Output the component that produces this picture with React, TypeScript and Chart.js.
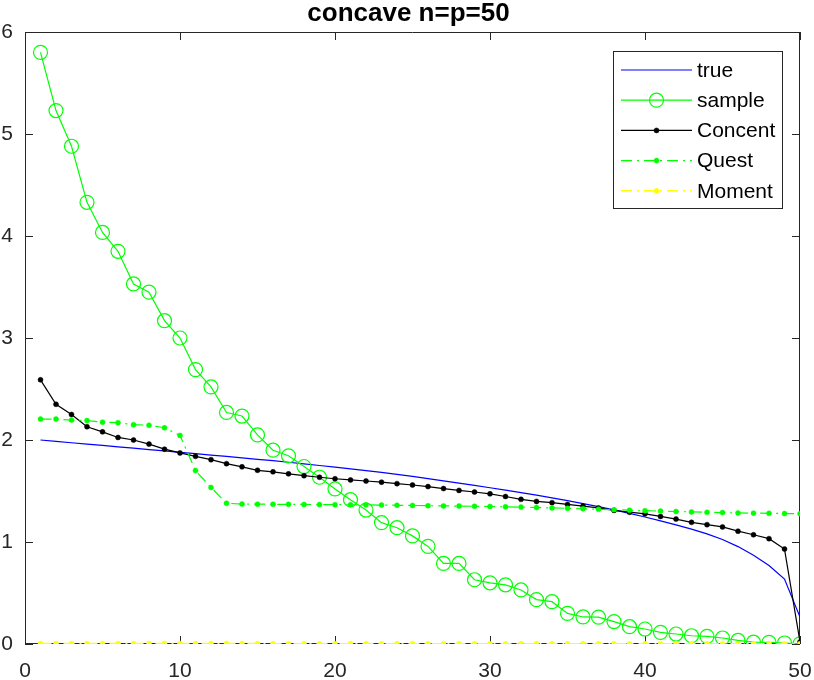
import { useEffect, useRef } from "react";
import { Chart, ChartConfiguration, Plugin, registerables } from "chart.js";
Chart.register(...registerables);

const chartTitle = "concave n=p=50";

const index = [
  1, 2, 3, 4, 5, 6, 7, 8, 9, 10, 11, 12, 13, 14, 15, 16, 17, 18, 19, 20, 21, 22, 23, 24, 25,
  26, 27, 28, 29, 30, 31, 32, 33, 34, 35, 36, 37, 38, 39, 40, 41, 42, 43, 44, 45, 46, 47, 48,
  49, 50,
];

const trueValues = [
  2.0, 1.987, 1.973, 1.96, 1.947, 1.933, 1.92, 1.906, 1.893, 1.879, 1.866, 1.852, 1.839, 1.825,
  1.811, 1.797, 1.782, 1.766, 1.75, 1.734, 1.717, 1.7, 1.682, 1.663, 1.643, 1.622, 1.6, 1.578,
  1.555, 1.532, 1.508, 1.484, 1.459, 1.433, 1.406, 1.377, 1.347, 1.315, 1.281, 1.245, 1.207,
  1.168, 1.126, 1.08, 1.025, 0.955, 0.87, 0.77, 0.637, 0.265,
];

const sampleValues = [
  5.8, 5.23, 4.88, 4.33, 4.035, 3.85, 3.53, 3.45, 3.17, 3.0, 2.69, 2.52, 2.27, 2.235, 2.05,
  1.9, 1.845, 1.74, 1.635, 1.52, 1.415, 1.313, 1.19, 1.14, 1.06, 0.957, 0.79, 0.79, 0.63, 0.6,
  0.58, 0.53, 0.435, 0.415, 0.3, 0.265, 0.263, 0.22, 0.17, 0.147, 0.114, 0.098, 0.081, 0.075,
  0.059, 0.035, 0.018, 0.016, 0.01, 0.002,
];

const concentValues = [
  2.59, 2.35, 2.25, 2.13, 2.08, 2.025, 2.0, 1.96, 1.91, 1.873, 1.84, 1.807, 1.768, 1.737, 1.703,
  1.688, 1.668, 1.65, 1.635, 1.62, 1.609, 1.598, 1.587, 1.572, 1.559, 1.543, 1.524, 1.506, 1.49,
  1.472, 1.446, 1.418, 1.398, 1.386, 1.368, 1.352, 1.334, 1.31, 1.292, 1.276, 1.251, 1.225,
  1.193, 1.17, 1.148, 1.106, 1.071, 1.033, 0.931, 0.02,
];

const questValues = [
  2.205, 2.205, 2.195, 2.19, 2.175, 2.17, 2.15, 2.145, 2.12, 2.045, 1.7, 1.535, 1.38, 1.372,
  1.371, 1.37, 1.369, 1.368, 1.367, 1.366, 1.365, 1.364, 1.362, 1.36, 1.358, 1.356, 1.354,
  1.352, 1.35, 1.348, 1.345, 1.342, 1.338, 1.334, 1.33, 1.326, 1.321, 1.317, 1.312, 1.307,
  1.303, 1.299, 1.295, 1.291, 1.288, 1.285, 1.283, 1.281, 1.279, 1.277,
];

const momentValues = [
  0.004, 0.004, 0.004, 0.004, 0.004, 0.004, 0.004, 0.004, 0.004, 0.004, 0.004, 0.004, 0.004,
  0.004, 0.004, 0.003, 0.003, 0.003, 0.003, 0.003, 0.003, 0.003, 0.003, 0.003, 0.003, 0.003,
  0.003, 0.003, 0.003, 0.003, 0.003, 0.003, 0.003, 0.003, 0.003, 0.002, 0.002, 0.002, 0.002,
  0.002, 0.002, 0.002, 0.002, 0.002, 0.002, 0.002, 0.002, 0.002, 0.002, 0.002,
];

const xTicks = [0, 10, 20, 30, 40, 50];
const yTicks = [0, 1, 2, 3, 4, 5, 6];

const axisColor = "#262626";
const fontFamily = "'Liberation Sans', Arial, Helvetica, sans-serif";
const dashDot = [11, 5, 2, 5];

const toPoints = (values: number[]) => values.map((y, i) => ({ x: index[i], y }));

// MATLAB-style box with inward ticks, drawn under the lines
const boxPlugin: Plugin = {
  id: "box",
  beforeDatasetsDraw(chart) {
    const { ctx, chartArea: a, scales } = chart;
    const len = 8;
    ctx.save();
    ctx.strokeStyle = axisColor;
    ctx.lineWidth = 1;
    ctx.beginPath();
    ctx.rect(a.left + 0.5, a.top + 0.5, a.right - a.left - 1, a.bottom - a.top - 1);
    xTicks.forEach((v) => {
      const px = Math.round(scales.x.getPixelForValue(v)) + 0.5;
      ctx.moveTo(px, a.bottom);
      ctx.lineTo(px, a.bottom - len);
      ctx.moveTo(px, a.top);
      ctx.lineTo(px, a.top + len);
    });
    yTicks.forEach((v) => {
      const py = Math.round(scales.y.getPixelForValue(v)) + 0.5;
      ctx.moveTo(a.left, py);
      ctx.lineTo(a.left + len, py);
      ctx.moveTo(a.right, py);
      ctx.lineTo(a.right - len, py);
    });
    ctx.stroke();
    ctx.restore();
  },
  afterDraw(chart) {
    const { ctx, chartArea: a } = chart;
    ctx.save();
    ctx.fillStyle = "#000";
    ctx.font = `bold 26px ${fontFamily}`;
    ctx.textAlign = "center";
    ctx.textBaseline = "alphabetic";
    ctx.fillText(chartTitle, (a.left + a.right) / 2 - 4, 21);
    ctx.restore();
  },
};

// legend with the line sample and the marker in its middle
const legendPlugin: Plugin = {
  id: "matlabLegend",
  afterDraw(chart) {
    const { ctx } = chart;
    const left = 613;
    const top = 51;
    const width = 169;
    const height = 157;
    ctx.save();
    ctx.fillStyle = "#fff";
    ctx.fillRect(left, top, width, height);
    ctx.strokeStyle = axisColor;
    ctx.lineWidth = 1;
    ctx.strokeRect(left + 0.5, top + 0.5, width, height);
    chart.data.datasets.forEach((ds: any, i) => {
      const y = 70 + i * 30.2;
      ctx.strokeStyle = ds.borderColor;
      ctx.lineWidth = ds.borderWidth;
      ctx.setLineDash(ds.borderDash || []);
      ctx.beginPath();
      ctx.moveTo(621, y);
      ctx.lineTo(692, y);
      ctx.stroke();
      ctx.setLineDash([]);
      if (ds.pointRadius > 0) {
        ctx.beginPath();
        ctx.arc(656.5, y, ds.pointRadius, 0, Math.PI * 2);
        if (ds.pointBackgroundColor !== "transparent") {
          ctx.fillStyle = ds.pointBackgroundColor;
          ctx.fill();
        }
        ctx.strokeStyle = ds.pointBorderColor;
        ctx.lineWidth = ds.pointBorderWidth || 1;
        ctx.stroke();
      }
      ctx.fillStyle = "#000";
      ctx.font = `21px ${fontFamily}`;
      ctx.textAlign = "left";
      ctx.textBaseline = "middle";
      ctx.fillText(ds.label, 697, y + 1);
    });
    ctx.restore();
  },
};

const App = () => {
  const ref = useRef<HTMLCanvasElement>(null);

  useEffect(() => {
    document.body.style.margin = "0";
    const config: ChartConfiguration = {
      type: "line",
      data: {
        datasets: [
          {
            label: "true",
            data: toPoints(trueValues),
            borderColor: "#0000ff",
            borderWidth: 1.2,
            pointRadius: 0,
            order: 5,
          },
          {
            label: "sample",
            data: toPoints(sampleValues),
            borderColor: "#00ff00",
            borderWidth: 1.2,
            pointRadius: 7,
            pointBackgroundColor: "transparent",
            pointBorderColor: "#00ff00",
            pointBorderWidth: 1.2,
            order: 4,
          },
          {
            label: "Concent",
            data: toPoints(concentValues),
            borderColor: "#000000",
            borderWidth: 1.2,
            pointRadius: 2.5,
            pointBackgroundColor: "#000000",
            pointBorderColor: "#000000",
            pointBorderWidth: 0.5,
            order: 3,
          },
          {
            label: "Quest",
            data: toPoints(questValues),
            borderColor: "#00ff00",
            borderWidth: 1.2,
            borderDash: dashDot,
            pointRadius: 2.5,
            pointBackgroundColor: "#00ff00",
            pointBorderColor: "#00ff00",
            pointBorderWidth: 0.5,
            order: 2,
          },
          {
            label: "Moment",
            data: toPoints(momentValues),
            borderColor: "#ffff00",
            borderWidth: 1.5,
            borderDash: dashDot,
            pointRadius: 2.5,
            pointBackgroundColor: "#ffff00",
            pointBorderColor: "#ffff00",
            pointBorderWidth: 0.5,
            order: 1,
          },
        ] as any,
      },
      options: {
        responsive: false,
        animation: false,
        layout: { padding: { top: 32, right: 14, left: 0, bottom: 0 } },
        plugins: {
          legend: { display: false },
          title: { display: false },
          tooltip: { enabled: false },
        },
        elements: { line: { tension: 0 } },
        scales: {
          x: {
            type: "linear",
            min: 0,
            max: 50,
            afterFit: (scale: any) => {
              scale.height = 36;
              scale.paddingLeft = 0;
              scale.paddingRight = 0;
            },
            afterBuildTicks: (scale) => {
              scale.ticks = xTicks.map((value) => ({ value }));
            },
            grid: { display: false, drawTicks: false },
            border: { display: false },
            ticks: {
              padding: 15,
              color: axisColor,
              font: { family: fontFamily, size: 21 },
              maxRotation: 0,
            },
          },
          y: {
            type: "linear",
            min: 0,
            max: 6,
            afterFit: (scale: any) => {
              scale.width = 25;
              scale.paddingTop = 0;
              scale.paddingBottom = 0;
            },
            afterBuildTicks: (scale) => {
              scale.ticks = yTicks.map((value) => ({ value }));
            },
            grid: { display: false, drawTicks: false },
            border: { display: false },
            ticks: {
              padding: 12,
              color: axisColor,
              font: { family: fontFamily, size: 21 },
            },
          },
        },
      },
      plugins: [boxPlugin, legendPlugin],
    };
    const chart = new Chart(ref.current!, config);
    return () => {
      chart.destroy();
    };
  }, []);

  return (
    <div style={{ width: 814, height: 680, background: "#fff" }}>
      <canvas ref={ref} width={814} height={680} style={{ display: "block" }}></canvas>
    </div>
  );
};

export default App;
